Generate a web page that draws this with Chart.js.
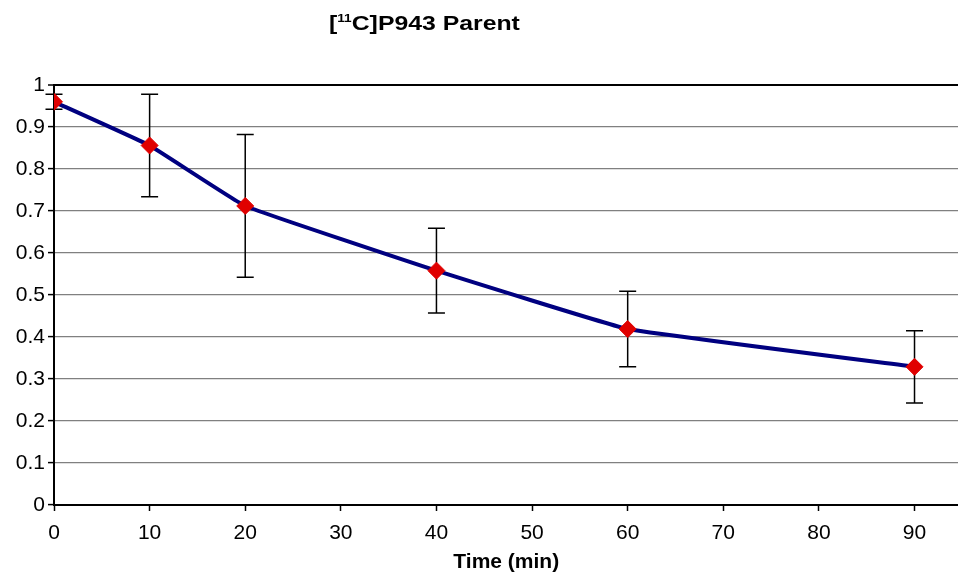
<!DOCTYPE html>
<html lang="en">
<head>
    <meta charset="UTF-8">
    <title>[11C]P943 Parent</title>
    <style>
        body {
            margin: 0;
            background: #fff;
            font-family: "Liberation Sans", Arial, sans-serif;
            overflow: hidden;
        }

        .wrap {
            position: relative;
            width: 958px;
            height: 583px;
            overflow: hidden;
        }

        canvas {
            display: block;
        }

        .title {
            position: absolute;
            left: 329px;
            top: 13px;
            font-size: 20px;
            font-weight: bold;
            line-height: 20px;
            white-space: nowrap;
            transform: scaleX(1.24);
            transform-origin: left top;
        }

        .title sup {
            font-size: 11px;
            line-height: 0;
            vertical-align: 8px;
        }
    </style>
    <script src="https://cdn.jsdelivr.net/npm/chart.js"></script>
</head>
<body>
    <div class="wrap">
        <div class="title">[<sup>11</sup>C]P943 Parent</div>
        <!-- canvas a bit wider than the window: the plot runs off the right edge like the original -->
        <canvas id="chart" width="968" height="583"></canvas>
    </div>

    <script>
        // time points (min) and parent fraction
        const times = [0, 10, 20, 40, 60, 90];
        const parent = [0.960, 0.856, 0.712, 0.558, 0.419, 0.329];
        const errors = [0.018, 0.122, 0.170, 0.101, 0.090, 0.086];

        const yTicks = [0, 0.1, 0.2, 0.3, 0.4, 0.5, 0.6, 0.7, 0.8, 0.9, 1];

        // error bars drawn through the chart's own scales
        const errorBars = {
            id: 'errorBars',
            beforeDatasetsDraw(chart) {
                const ctx = chart.ctx;
                const xs = chart.scales.x;
                const ys = chart.scales.y;
                ctx.save();
                ctx.strokeStyle = '#000';
                ctx.lineWidth = 1.5;
                for (let i = 0; i < times.length; i++) {
                    const px = xs.getPixelForValue(times[i]);
                    const top = ys.getPixelForValue(parent[i] + errors[i]);
                    const bot = ys.getPixelForValue(parent[i] - errors[i]);
                    ctx.beginPath();
                    ctx.moveTo(px, top);
                    ctx.lineTo(px, bot);
                    ctx.moveTo(px - 8.5, top);
                    ctx.lineTo(px + 8.5, top);
                    ctx.moveTo(px - 8.5, bot);
                    ctx.lineTo(px + 8.5, bot);
                    ctx.stroke();
                }
                ctx.restore();
            }
        };

        const ctx = document.getElementById('chart').getContext('2d');

        new Chart(ctx, {
            type: 'line',
            data: {
                datasets: [{
                    label: 'Parent',
                    data: times.map((t, i) => ({ x: t, y: parent[i] })),
                    borderColor: '#000080',
                    borderWidth: 4,
                    tension: 0.08,
                    pointStyle: 'rectRot',
                    pointRadius: 8.5,
                    pointHoverRadius: 8.5,
                    pointBackgroundColor: '#e00000',
                    pointBorderColor: '#e00000',
                    pointBorderWidth: 1
                }]
            },
            options: {
                responsive: false,
                animation: false,
                layout: {
                    padding: { top: 85, right: 0, left: 0, bottom: 0 }
                },
                plugins: {
                    legend: { display: false },
                    tooltip: { enabled: false }
                },
                scales: {
                    x: {
                        type: 'linear',
                        min: 0,
                        max: 94.6,
                        border: { color: '#000', width: 2 },
                        grid: {
                            drawOnChartArea: false,
                            tickLength: 6,
                            tickColor: '#000',
                            tickWidth: 1.5
                        },
                        ticks: {
                            stepSize: 10,
                            includeBounds: false,
                            color: '#000',
                            padding: 10,
                            maxRotation: 0,
                            font: { family: 'Liberation Sans', size: 21 }
                        },
                        title: {
                            display: true,
                            text: 'Time (min)',
                            color: '#000',
                            padding: { top: 0, bottom: 8 },
                            font: { family: 'Liberation Sans', size: 21, weight: 'bold' }
                        },
                        afterFit(scale) {
                            scale.height = 78;
                            scale.paddingLeft = 0;
                            scale.paddingRight = 0;
                        }
                    },
                    y: {
                        min: 0,
                        max: 1,
                        afterBuildTicks(scale) {
                            scale.ticks = yTicks.map(v => ({ value: v }));
                        },
                        border: { color: '#000', width: 2 },
                        grid: {
                            color: ctx => ctx.tick && ctx.tick.value === 1 ? '#000' : '#808080',
                            lineWidth: ctx => ctx.tick && ctx.tick.value === 1 ? 2 : 1.2,
                            tickLength: 6,
                            tickColor: '#000',
                            tickWidth: 1.5
                        },
                        ticks: {
                            color: '#000',
                            padding: 3,
                            font: { family: 'Liberation Sans', size: 21 },
                            callback: v => String(Math.round(v * 10) / 10)
                        },
                        afterFit(scale) {
                            scale.width = 54;
                        }
                    }
                }
            },
            plugins: [errorBars]
        });
    </script>
</body>
</html>
